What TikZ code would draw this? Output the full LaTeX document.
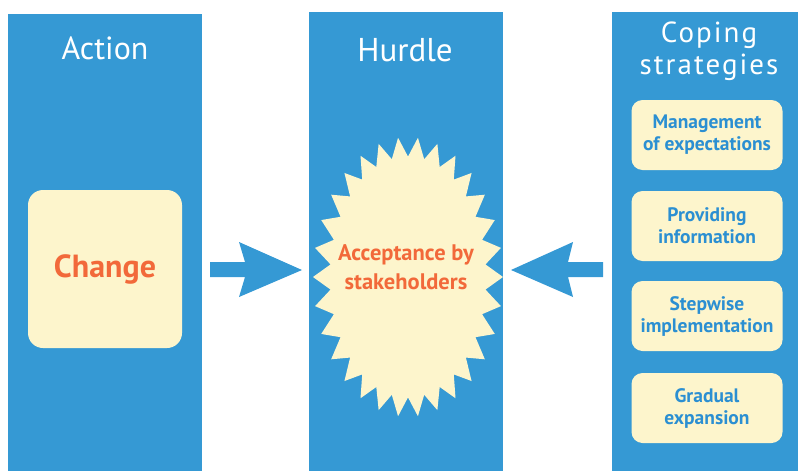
\documentclass[tikz,border=0pt]{standalone}
\usepackage{fontspec}
\setmainfont{PT Sans}
\newfontfamily\spacedfont[LetterSpace=7]{PT Sans}
\definecolor{colblue}{HTML}{3599D4}
\definecolor{cream}{HTML}{FDF5CC}
\definecolor{accent}{HTML}{F2693A}
\definecolor{boxtext}{HTML}{2B8FD2}
\begin{document}
\begin{tikzpicture}[x=1pt,y=-1pt,
  column/.style={fill=colblue,draw=none,inner sep=0pt},
  heading/.style={text=white,font=\fontsize{32}{32}\selectfont,align=center,inner sep=0pt},
  strategy/.style={fill=cream,rounded corners=11pt,minimum width=151pt,minimum height=70pt,
    inner sep=0pt,align=center,text=boxtext,font=\bfseries\fontsize{19.5}{22}\selectfont},
  blockarrow/.style={fill=colblue,draw=none}]
\useasboundingbox (0,0) rectangle (798,471);
% three columns
\node[column,minimum width=194pt,minimum height=457pt,anchor=north west] (colA) at (8,14) {};
\node[column,minimum width=194pt,minimum height=459pt,anchor=north west] (colH) at (309,12) {};
\node[column,minimum width=186pt,minimum height=459pt,anchor=north west] (colC) at (612,12) {};
% headings
\node[heading] (tA) at (105,48) {Action};
\node[heading,font=\fontsize{33}{33}\selectfont] (tH) at (405,50) {Hurdle};
\node[heading,font=\spacedfont\fontsize{29}{32}\selectfont] (tC) at (709,51) {Coping\\strategies};
% action box
\node[fill=cream,rounded corners=15pt,minimum width=154pt,minimum height=158pt,inner sep=0pt,
  text=accent,font=\bfseries\fontsize{32}{32}\selectfont] (change) at (105,269) {Change};
% hurdle starburst
\fill[cream] plot[samples=61,domain=0:60,variable=\k]
  ({408+95*(1-0.18*mod(\k,2))*cos(6*\k)},{277+140*(1-0.14*mod(\k,2))*sin(6*\k)}) -- cycle;
\node[text=accent,font=\bfseries\fontsize{22.5}{29}\selectfont,align=center,inner sep=0pt] (hurdle) at (406,267)
  {Acceptance by\\stakeholders};
% strategies
\node[strategy] (s1) at (707,135) {Management\\of expectations};
\node[strategy] (s2) at (707,226) {Providing\\information};
\node[strategy] (s3) at (707,316) {Stepwise\\implementation};
\node[strategy] (s4) at (707,408) {Gradual\\expansion};
% block arrows pointing at the hurdle
\fill[blockarrow] (210,262) -- (245,262) -- (239,242) -- (302,270) -- (239,297) -- (245,277) -- (210,277) -- cycle;
\fill[blockarrow] (603,262) -- (568,262) -- (573,242) -- (511,270) -- (573,297) -- (568,277) -- (603,277) -- cycle;
\end{tikzpicture}
\end{document}
